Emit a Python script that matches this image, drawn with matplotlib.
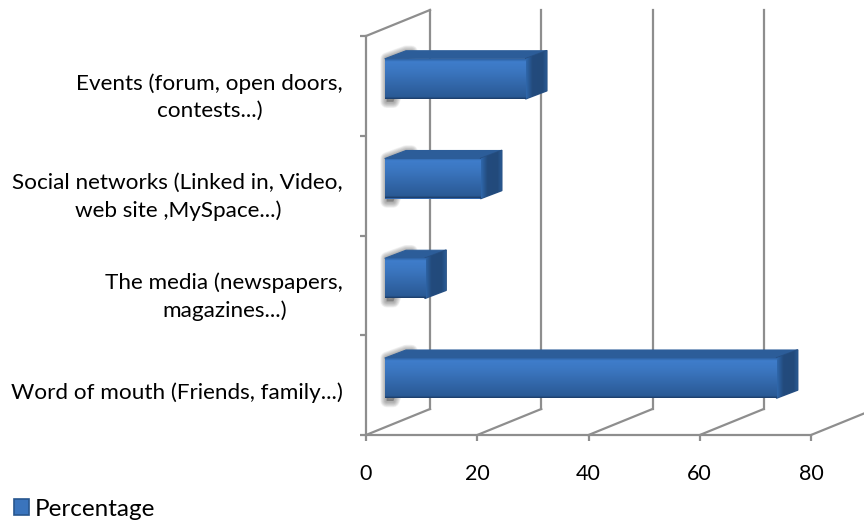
#!/bin/env python3

import matplotlib
matplotlib.use('Agg')
import matplotlib.pyplot as plt
import numpy as np
from matplotlib.patches import Polygon, Patch
from matplotlib.colors import LinearSegmentedColormap

plt.rcParams['font.family'] = ['Lato', 'DejaVu Sans']

categories = ['Word of mouth (Friends, family...)',
              'The media (newspapers,\nmagazines...)',
              'Social networks (Linked in, Video,\nweb site ,MySpace...)',
              'Events (forum, open doors,\ncontests...)']
values = [70.4, 7.2, 17.2, 25.3]
xticks = [0, 20, 40, 60, 80]
series_name = 'Percentage'

GRID = '#8e8e8e'
LW = 1.6
W, H = 864, 520

# front plane of the 3d box, in pixels
fig = plt.figure(figsize=(8.64, 5.2), dpi=100)
ax = fig.add_axes([366/W, (H-435)/H, (811-366)/W, (435-36)/H])
ax.set_xlim(0, 80)
ax.set_ylim(0, 4)

pxx = 80 / (811-366)
pxy = 4 / (435-36)
wall_dx, wall_dy = 64*pxx, 26*pxy
bar_dx, bar_dy = 21*pxx, 8*pxy
bar_left = 19*pxx
bar_h = 40*pxy
bar_off = 37*pxy   # bottom of the bar above the band

for s in ['top', 'right']:
    ax.spines[s].set_visible(False)
for s in ['left', 'bottom']:
    ax.spines[s].set_color(GRID)
    ax.spines[s].set_linewidth(LW)

ax.set_xticks(xticks)
ax.set_xticklabels([str(t) for t in xticks], fontsize=15.5, color='black')
ax.tick_params(axis='x', length=4.5, width=LW, color=GRID, pad=16.5)
ax.set_yticks(range(5))
ax.set_yticklabels([])
ax.tick_params(axis='y', which='major', length=4.5, width=LW, color=GRID)
ax.set_yticks(np.arange(4) + 0.44, minor=True)
labels = ax.set_yticklabels(categories, minor=True, fontsize=16.2, ha='right',
                            multialignment='center', color='black')
for lab in labels:
    lab.set_linespacing(1.4)
ax.tick_params(axis='y', which='minor', length=0, pad=16.5)

# side wall and floor
ax.plot([0, wall_dx], [4, 4+wall_dy], color=GRID, lw=LW, clip_on=False)
for t in xticks:
    ax.plot([t, t+wall_dx], [0, wall_dy], color=GRID, lw=LW, clip_on=False)
    ax.plot([t+wall_dx, t+wall_dx], [wall_dy, 4+wall_dy], color=GRID, lw=LW,
            clip_on=False)

front_cm = LinearSegmentedColormap.from_list('front', [
    (0.0, '#2f64a6'), (0.06, '#3f7dcb'), (0.3, '#3b76c0'), (0.8, '#2e609f'),
    (0.95, '#2a5a95'), (1.0, '#1c3d6a')])
side_cm = LinearSegmentedColormap.from_list('side', [
    (0.0, '#2f66aa'), (0.3, '#234b7d'), (0.8, '#224a7b'), (1.0, '#2a5a93')])
fgrad = np.linspace(0, 1, 64).reshape(-1, 1)
sgrad = np.linspace(0, 1, 32).reshape(1, -1)

ys = np.arange(4) + bar_off
bars = ax.barh(ys, values, left=bar_left, height=bar_h, align='edge',
               color='#3468ad', zorder=5, label=series_name)

for y, v, bar in zip(ys, values, bars):
    x0, x1 = bar_left, bar_left + v
    top = y + bar_h

    # soft shadow on the back-left of the bar
    shadow = [(x0+0.3, y-3*pxy), (x0+0.3, top), (x0+bar_dx, top+bar_dy-1*pxy),
              (x0+bar_dx+1, top+bar_dy-1*pxy), (x0+1.5, y-3*pxy)]
    for lw in [9, 8, 7, 6, 5, 4, 3, 2]:
        ax.add_patch(Polygon(shadow, closed=True, fc='#555555', ec='#555555',
                             lw=lw, alpha=0.075, joinstyle='round', zorder=3))

    # top and side of the box
    ax.add_patch(Polygon([(x0, top), (x0+bar_dx, top+bar_dy), (x1+bar_dx, top+bar_dy),
                          (x1, top)], closed=True, fc='#2c5d99', ec='#2c5d99', lw=0.8,
                         joinstyle='round', zorder=5))
    side = Polygon([(x1, y), (x1, top), (x1+bar_dx, top+bar_dy), (x1+bar_dx, y+bar_dy)],
                   closed=True, fc='#234b7d', ec='#264f83', lw=1.2, joinstyle='round',
                   zorder=5, transform=ax.transData)
    ax.add_patch(side)
    im = ax.imshow(sgrad, cmap=side_cm, aspect='auto', zorder=6,
                   extent=[x1, x1+bar_dx, y, top+bar_dy])
    im.set_clip_path(side)
    im = ax.imshow(fgrad, cmap=front_cm, aspect='auto', zorder=6,
                   extent=[x0, x1, y, top])
    im.set_clip_path(bar)

ax.set_xlim(0, 80)
ax.set_ylim(0, 4)

leg = fig.legend(handles=[Patch(facecolor='#3a74bd', edgecolor='#28568f', linewidth=1.2,
                                label=series_name)],
                 loc='lower left', bbox_to_anchor=(12/W, -2/H), borderaxespad=0,
                 frameon=False, fontsize=17.5, handlelength=0.58, handleheight=0.58,
                 handletextpad=0.25, borderpad=0.1, labelcolor='black')

fig.savefig('out.png', dpi=100)
